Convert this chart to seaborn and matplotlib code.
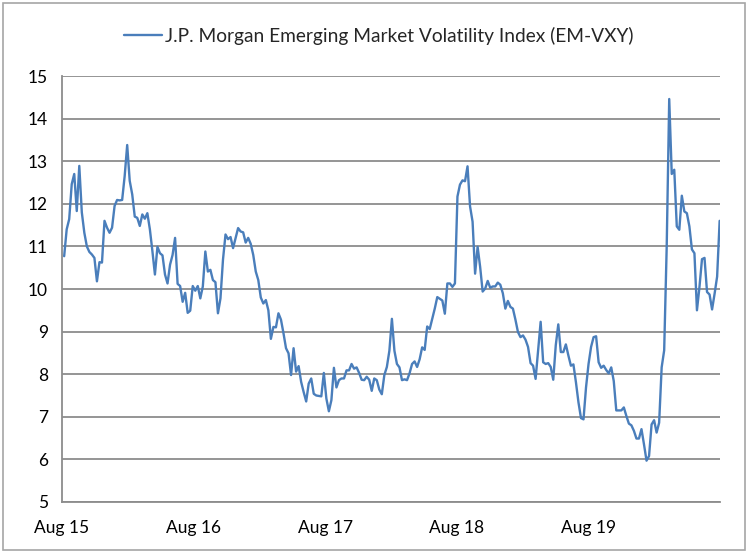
import matplotlib
matplotlib.use("Agg")
import matplotlib.pyplot as plt
from matplotlib.patches import Rectangle
import seaborn as sns
import pandas as pd

series_label = "J.P. Morgan Emerging Market Volatility Index (EM-VXY)"
start_date = "2015-08-07"

# weekly EM-VXY readings, Aug 2015 -> Jul 2020
vals_2015_16 = [10.77, 11.4, 11.64, 12.46, 12.7, 11.83, 12.89, 11.8, 11.32, 11.0, 10.87, 10.81,
                10.73, 10.18, 10.63, 10.62, 11.6, 11.44, 11.32, 11.44, 11.95, 12.09, 12.08, 12.09,
                12.65, 13.38, 12.54, 12.22, 11.7, 11.67, 11.48, 11.75, 11.65, 11.78, 11.4, 10.89,
                10.34, 10.99, 10.84, 10.79, 10.34, 10.13]
vals_2016_17 = [10.57, 10.8, 11.2, 10.12, 10.07, 9.7, 9.91, 9.44, 9.49, 10.07, 9.96, 10.07,
                9.78, 10.06, 10.88, 10.41, 10.45, 10.21, 10.16, 9.43, 9.78, 10.69, 11.28, 11.17,
                11.22, 10.96, 11.2, 11.43, 11.35, 11.33, 11.09, 11.2, 11.06, 10.8, 10.41, 10.21,
                9.8, 9.66, 9.74, 9.5, 8.83, 9.11, 9.1, 9.43]
vals_2017_18 = [9.28, 8.96, 8.61, 8.49, 7.98, 8.61, 8.06, 8.19, 7.82, 7.58, 7.36, 7.78,
                7.9, 7.54, 7.5, 7.49, 7.48, 8.03, 7.43, 7.13, 7.39, 8.15, 7.69, 7.86,
                7.9, 7.9, 8.09, 8.09, 8.24, 8.13, 8.16, 8.03, 7.87, 7.86, 7.94, 7.87,
                7.61, 7.9, 7.86, 7.64, 7.53, 7.98, 8.17, 8.55, 9.3]
vals_2018 = [8.55, 8.24, 8.16, 7.86, 7.88, 7.86, 8.02, 8.24, 8.3, 8.17, 8.35, 8.63,
             8.57, 9.12, 9.06, 9.3, 9.54, 9.81, 9.77, 9.73, 9.42, 10.13, 10.13, 10.05,
             10.13, 12.17, 12.45, 12.55, 12.53, 12.88, 11.94, 11.58, 10.36, 10.99, 10.52, 9.94,
             10.01, 10.19, 10.03, 10.06, 10.06, 10.15, 10.1]
vals_2019 = [9.9, 9.54, 9.72, 9.58, 9.54, 9.28, 8.99, 8.87, 8.91, 8.81, 8.64, 8.26,
             8.2, 7.89, 8.56, 9.23, 8.28, 8.24, 8.26, 8.17, 7.87, 8.68, 9.17, 8.52,
             8.52, 8.7, 8.44, 8.2, 8.23, 7.81, 7.34, 6.97, 6.94, 7.69, 8.24, 8.64,
             8.87, 8.89, 8.28, 8.15, 8.2, 8.1, 8.02, 8.16]
vals_2020 = [7.84, 7.15, 7.15, 7.15, 7.22, 7.02, 6.84, 6.8, 6.67, 6.49, 6.49, 6.71,
             6.35, 5.97, 6.08, 6.82, 6.92, 6.63, 6.86, 8.16, 8.56, 10.99, 14.46, 12.7,
             12.8, 11.47, 11.39, 12.19, 11.82, 11.78, 11.47, 10.93, 10.84, 9.5, 10.05, 10.7,
             10.73, 9.93, 9.87, 9.52, 9.89, 10.29, 11.6]

tick_dates = ["2015-08-01", "2016-08-01", "2017-08-01", "2018-08-01", "2019-08-01"]
tick_labels = ["Aug 15", "Aug 16", "Aug 17", "Aug 18", "Aug 19"]
x_range = ["2015-08-01", "2020-08-01"]
y_ticks = list(range(5, 16))

values = vals_2015_16 + vals_2016_17 + vals_2017_18 + vals_2018 + vals_2019 + vals_2020
dates = pd.date_range(start_date, periods=len(values), freq="7D")
df = pd.DataFrame({"date": dates, "EM-VXY": values})

sns.set_theme(style="white")
plt.rcParams["font.family"] = ["Lato", "DejaVu Sans"]

GRAY = "#8c8c8c"
fig = plt.figure(figsize=(7.48, 5.52), dpi=100)
ax = fig.add_axes([62 / 748, 1 - 502 / 552, (720 - 62) / 748, (502 - 76) / 552])

sns.lineplot(data=df, x="date", y="EM-VXY", ax=ax, color="#4a7ebb",
             linewidth=1.7, label=series_label)

ax.set_ylim(5, 15)
ax.set_xlim(pd.Timestamp(x_range[0]), pd.Timestamp(x_range[1]))
ax.set_yticks(y_ticks)
ax.set_xticks(pd.to_datetime(tick_dates))
ax.set_xticklabels(tick_labels)
ax.set_xlabel("")
ax.set_ylabel("")

ax.grid(axis="y", color=GRAY, linewidth=1.3)
ax.grid(axis="x", visible=False)
ax.set_axisbelow(True)
for s in ["top", "right"]:
    ax.spines[s].set_visible(False)
for s in ["left", "bottom"]:
    ax.spines[s].set_color(GRAY)
    ax.spines[s].set_linewidth(1.3)
ax.tick_params(axis="both", direction="out", length=5, width=1.3, color=GRAY,
               labelsize=12.5, labelcolor="black", pad=5)
ax.tick_params(axis="x", pad=8)

ax.legend(loc="center", bbox_to_anchor=(0.506, 0.935), bbox_transform=fig.transFigure,
          frameon=False, fontsize=13.8, handlelength=2.0, handletextpad=0.15)

fig.patches.append(Rectangle((0.004, 0.004), 0.992, 0.99, transform=fig.transFigure,
                             fill=False, edgecolor="#a6a6a6", linewidth=1.2))

fig.savefig("out.png", dpi=100)
